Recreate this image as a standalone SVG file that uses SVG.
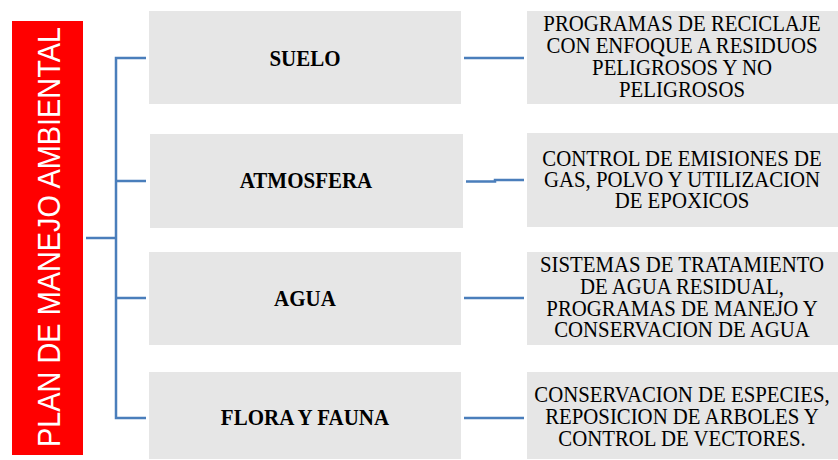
<svg xmlns="http://www.w3.org/2000/svg" width="838" height="460" viewBox="0 0 838 460">
<style>
.box{fill:#e6e6e6;}
.lbl{font-family:"Liberation Serif","Times New Roman",serif;font-weight:bold;font-size:21px;fill:#000;text-anchor:middle;}
.desc{font-family:"Liberation Serif","Times New Roman",serif;font-size:20.8px;fill:#000;text-anchor:middle;}
.con{fill:none;stroke:#4a7ebb;stroke-width:2.5;}
</style>
<rect width="838" height="460" fill="#fff"/>
<g id="root">
<rect x="12" y="21" width="71" height="434" fill="#ff0000"/>
<text transform="translate(60,237) rotate(-90)" font-family="'Liberation Sans',Arial,sans-serif" font-size="31" fill="#fff" text-anchor="middle" textLength="420" lengthAdjust="spacingAndGlyphs">PLAN DE MANEJO AMBIENTAL</text>
</g>
<g id="connectors">
<path class="con" d="M86 238H116" stroke-width="3.5"/>
<path class="con" d="M146 58H116V418H146"/>
<path class="con" d="M116 181H146M116 298H146"/>
<path class="con" d="M464 58H524"/>
<path class="con" d="M466 181.5H495V180H524"/>
<path class="con" d="M464 298H524"/>
<path class="con" d="M464 418H524"/>
</g>
<g id="suelo">
<rect class="box" x="149" y="11" width="312" height="93"/>
<text class="lbl" transform="translate(305,65.5) scale(1,1.1)">SUELO</text>
</g>
<g id="atmosfera">
<rect class="box" x="150" y="134" width="313" height="94"/>
<text class="lbl" transform="translate(306,188) scale(1,1.1)">ATMOSFERA</text>
</g>
<g id="agua">
<rect class="box" x="149" y="252" width="312" height="93"/>
<text class="lbl" transform="translate(305,305.5) scale(1,1.1)">AGUA</text>
</g>
<g id="flora">
<rect class="box" x="149" y="372" width="312" height="87"/>
<text class="lbl" transform="translate(305,425) scale(1,1.1)">FLORA Y FAUNA</text>
</g>
<g id="suelo-desc">
<rect class="box" x="527" y="11" width="311" height="93"/>
<text class="desc" transform="translate(682,31) scale(1,1.12)">PROGRAMAS  DE RECICLAJE</text>
<text class="desc" transform="translate(682,53) scale(1,1.12)">CON ENFOQUE A RESIDUOS</text>
<text class="desc" transform="translate(682,75) scale(1,1.12)">PELIGROSOS  Y NO</text>
<text class="desc" transform="translate(682,97) scale(1,1.12)">PELIGROSOS</text>
</g>
<g id="atmosfera-desc">
<rect class="box" x="527" y="133" width="311" height="94"/>
<text class="desc" transform="translate(682,166) scale(1,1.12)">CONTROL DE EMISIONES DE</text>
<text class="desc" transform="translate(682,187) scale(1,1.12)">GAS, POLVO Y UTILIZACION</text>
<text class="desc" transform="translate(682,208) scale(1,1.12)">DE EPOXICOS</text>
</g>
<g id="agua-desc">
<rect class="box" x="527" y="252" width="311" height="93"/>
<text class="desc" transform="translate(682,272) scale(1,1.12)">SISTEMAS DE TRATAMIENTO</text>
<text class="desc" transform="translate(682,294) scale(1,1.12)">DE AGUA RESIDUAL,</text>
<text class="desc" transform="translate(682,316) scale(1,1.12)">PROGRAMAS DE MANEJO Y</text>
<text class="desc" transform="translate(682,337) scale(1,1.12)">CONSERVACION DE AGUA</text>
</g>
<g id="flora-desc">
<rect class="box" x="527" y="372" width="311" height="87"/>
<text class="desc" transform="translate(682,402) scale(1,1.12)">CONSERVACION DE ESPECIES,</text>
<text class="desc" transform="translate(682,424) scale(1,1.12)">REPOSICION DE ARBOLES Y</text>
<text class="desc" transform="translate(682,446) scale(1,1.12)">CONTROL DE VECTORES.</text>
</g>
</svg>
